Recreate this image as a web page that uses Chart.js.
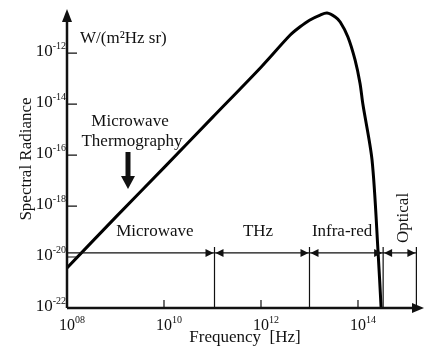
<!DOCTYPE html>
<html>
<head>
<meta charset="utf-8">
<script src="https://cdn.jsdelivr.net/npm/chart.js@4.4.1/dist/chart.umd.min.js"></script>
<style>
  html, body { margin: 0; padding: 0; background: #fff; }
  #wrap { width: 425px; height: 348px; }
</style>
</head>
<body>
<div id="wrap"><canvas id="spectrum"></canvas></div>
<script>
// curve (Hz, W/(m2 Hz sr))
const frequency = [1e8, 1e9, 1e10, 1e11, 1e12, 4e12, 6.3e12, 1e13, 1.66e13, 2.3e13, 3.4e13, 4.3e13, 6.2e13, 8.7e13, 1.1e14, 1.26e14, 1.95e14, 2.6e14, 3.0e14];
const radiance  = [3.7e-21, 3.6e-19, 3.2e-17, 3.0e-15, 2.8e-13, 5.1e-12, 1.05e-11, 1.95e-11, 3.1e-11, 3.7e-11, 2.6e-11, 1.65e-11, 4.3e-12, 5.4e-13, 6.6e-14, 1.0e-14, 6.3e-17, 1.45e-20, 1e-22];

const xTicks = [1e8, 1e10, 1e12, 1e14];
const yTicks = [1e-22, 1e-20, 1e-18, 1e-16, 1e-14, 1e-12];

// spectral bands
const bandNames = ["Microwave", "THz", "Infra-red", "Optical"];
const bandEdges = [1e8, 1.1e11, 1e13, 3.3e14, 1.6e15];
const bandLabelAt = [6.5e9, 8.7e11, 4.7e13, 8.5e14];
const bandLevel = 1.45e-20;

const FONT = '"Liberation Serif", "DejaVu Serif", serif';
const INK = "#111";

function expText(v) {
  const e = Math.round(Math.log10(v));
  return (e < 0 ? "-" : "") + String(Math.abs(e)).padStart(2, "0");
}

// "10" with a small raised exponent
function drawPow(ctx, v, x, baseline, anchor, size) {
  const exp = expText(v);
  ctx.font = size + "px " + FONT;
  const w10 = ctx.measureText("10").width;
  ctx.font = "10px " + FONT;
  const wExp = ctx.measureText(exp).width;
  let x0;
  if (anchor === "right") x0 = x - w10 - wExp;
  else x0 = x - w10 / 2;
  ctx.textAlign = "left";
  ctx.textBaseline = "alphabetic";
  ctx.font = size + "px " + FONT;
  ctx.fillText("10", x0, baseline);
  ctx.font = "10px " + FONT;
  ctx.fillText(exp, x0 + w10, baseline - 7);
}

function arrowHead(ctx, x, y, dir, len, half) {
  ctx.beginPath();
  ctx.moveTo(x, y);
  if (dir === "r") { ctx.lineTo(x - len, y - half); ctx.lineTo(x - len, y + half); }
  if (dir === "l") { ctx.lineTo(x + len, y - half); ctx.lineTo(x + len, y + half); }
  if (dir === "u") { ctx.lineTo(x - half, y + len); ctx.lineTo(x + half, y + len); }
  if (dir === "d") { ctx.lineTo(x - half, y - len); ctx.lineTo(x + half, y - len); }
  ctx.closePath();
  ctx.fill();
}

const decorations = {
  id: "decorations",
  afterDraw(chart) {
    const ctx = chart.ctx;
    const xs = chart.scales.x, ys = chart.scales.y;
    const area = chart.chartArea;
    ctx.save();
    ctx.strokeStyle = INK;
    ctx.fillStyle = INK;

    // axes with arrows
    ctx.lineWidth = 2.5;
    ctx.beginPath();
    ctx.moveTo(area.left, area.bottom);
    ctx.lineTo(area.left, area.top + 10);
    ctx.moveTo(area.left, area.bottom);
    ctx.lineTo(area.right - 8, area.bottom);
    ctx.stroke();
    arrowHead(ctx, area.left, area.top - 1, "u", 13, 5);
    arrowHead(ctx, area.right + 1, area.bottom, "r", 12, 5);

    // inward tick marks
    ctx.lineWidth = 1.2;
    ctx.beginPath();
    ys.ticks.forEach(t => {
      if (t.value === yTicks[0]) return;
      const py = ys.getPixelForValue(t.value);
      ctx.moveTo(area.left, py);
      ctx.lineTo(area.left + 10, py);
    });
    xs.ticks.forEach(t => {
      if (t.value === xTicks[0]) return;
      const px = xs.getPixelForValue(t.value);
      ctx.moveTo(px, area.bottom);
      ctx.lineTo(px, area.bottom - 8);
    });
    ctx.stroke();

    // tick labels
    ys.ticks.forEach(t => {
      drawPow(ctx, t.value, area.left - 1, ys.getPixelForValue(t.value) + 3, "right", 17);
    });
    xs.ticks.forEach(t => {
      drawPow(ctx, t.value, xs.getPixelForValue(t.value), area.bottom + 22, "center", 16);
    });

    // band line, dividers and arrows
    const by = ys.getPixelForValue(bandLevel);
    ctx.lineWidth = 1.2;
    ctx.beginPath();
    ctx.moveTo(area.left, by);
    ctx.lineTo(xs.getPixelForValue(bandEdges[bandEdges.length - 1]), by);
    for (let i = 1; i < bandEdges.length; i++) {
      const px = xs.getPixelForValue(bandEdges[i]);
      ctx.moveTo(px, by - 6);
      ctx.lineTo(px, area.bottom);
    }
    ctx.stroke();
    for (let i = 1; i < bandEdges.length; i++) {
      const px = xs.getPixelForValue(bandEdges[i]);
      arrowHead(ctx, px - 1, by, "r", 8, 4);
      if (i < bandEdges.length - 1) arrowHead(ctx, px + 1, by, "l", 8, 4);
    }

    // band labels
    ctx.font = "17px " + FONT;
    ctx.textAlign = "center";
    ctx.textBaseline = "middle";
    bandNames.forEach((name, i) => {
      const px = xs.getPixelForValue(bandLabelAt[i]);
      if (name === "Optical") {
        ctx.save();
        ctx.translate(px, by - 35);
        ctx.rotate(-Math.PI / 2);
        ctx.fillText(name, 0, 0);
        ctx.restore();
      } else {
        ctx.fillText(name, px, by - 21);
      }
    });

    // unit label and thermography note
    ctx.textAlign = "left";
    ctx.fillText("W/(m²Hz sr)", area.left + 13, 39);
    ctx.textAlign = "center";
    ctx.fillText("Microwave", 130, 122);
    ctx.fillText("Thermography", 132, 142);

    // thick down arrow
    ctx.lineWidth = 5;
    ctx.beginPath();
    ctx.moveTo(128, 152);
    ctx.lineTo(128, 178);
    ctx.stroke();
    arrowHead(ctx, 128, 189, "d", 13, 7);

    ctx.restore();
  }
};

new Chart(document.getElementById("spectrum"), {
  type: "line",
  data: {
    datasets: [{
      data: frequency.map((f, i) => ({ x: f, y: radiance[i] })),
      borderColor: "#000",
      borderWidth: 3,
      pointRadius: 0,
      tension: 0.3,
      fill: false
    }]
  },
  options: {
    responsive: true,
    maintainAspectRatio: false,
    animation: false,
    layout: { padding: { top: 10, right: 2, left: 0, bottom: 0 } },
    plugins: { legend: { display: false }, tooltip: { enabled: false } },
    scales: {
      x: {
        type: "logarithmic",
        min: 1e8,
        max: 2.19e15,
        afterFit: s => { s.height = 40; },
        afterBuildTicks: s => { s.ticks = xTicks.map(v => ({ value: v })); },
        grid: { display: false, drawTicks: false },
        border: { display: false },
        ticks: { display: false },
        title: {
          display: true,
          text: "Frequency  [Hz]",
          color: INK,
          font: { family: FONT, size: 17 },
          padding: { top: 0, bottom: 0 }
        }
      },
      y: {
        type: "logarithmic",
        min: 1e-22,
        max: 4.9e-11,
        afterFit: s => { s.width = 67; },
        afterBuildTicks: s => { s.ticks = yTicks.map(v => ({ value: v })); },
        grid: { display: false, drawTicks: false },
        border: { display: false },
        ticks: { display: false },
        title: {
          display: true,
          text: "Spectral Radiance",
          color: INK,
          font: { family: FONT, size: 17 },
          padding: { top: 16, bottom: 0 }
        }
      }
    }
  },
  plugins: [decorations]
});
</script>
</body>
</html>
